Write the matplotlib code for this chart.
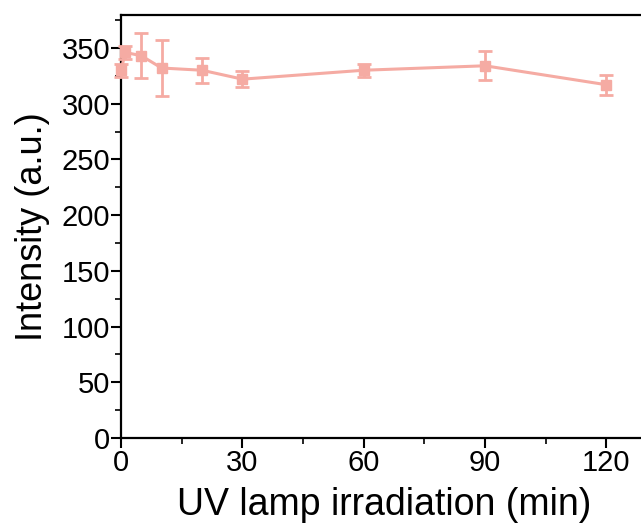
import numpy as np
import matplotlib
matplotlib.use("Agg")
import matplotlib.pyplot as plt
from matplotlib.ticker import MultipleLocator

# UV lamp irradiation time (min) vs intensity
time_min = [0, 1, 5, 10, 20, 30, 60, 90, 120]
intensity = [330, 346, 343, 332, 330, 322, 330, 334, 317]
err = [6, 6, 20, 25, 11, 7, 6, 13, 9]

matplotlib.rcParams['font.family'] = ['Liberation Sans', 'DejaVu Sans']

color = "#f5aba3"

fig = plt.figure(figsize=(6.41, 5.30), dpi=100)
ax = fig.add_axes([0.189, 0.1736, 0.82, 0.799])

ax.errorbar(time_min, intensity, yerr=err, color=color, marker="s", markersize=6.5,
            linewidth=2.2, elinewidth=2, capsize=5, capthick=2, clip_on=False, zorder=3)

ax.set_xlim(0, 130)
ax.set_ylim(0, 380)
ax.xaxis.set_major_locator(MultipleLocator(30))
ax.xaxis.set_minor_locator(MultipleLocator(15))
ax.yaxis.set_major_locator(MultipleLocator(50))
ax.yaxis.set_minor_locator(MultipleLocator(25))

ax.tick_params(axis="both", which="major", direction="out", length=7, width=1.5, labelsize=21, pad=1)
ax.tick_params(axis="both", which="minor", direction="out", length=4, width=1.2)
for s in ax.spines.values():
    s.set_linewidth(1.6)

ax.set_xlabel("UV lamp irradiation (min)", fontsize=27, labelpad=7)
ax.set_ylabel("Intensity (a.u.)", fontsize=26, labelpad=8)

fig.savefig("out.png", dpi=100)
